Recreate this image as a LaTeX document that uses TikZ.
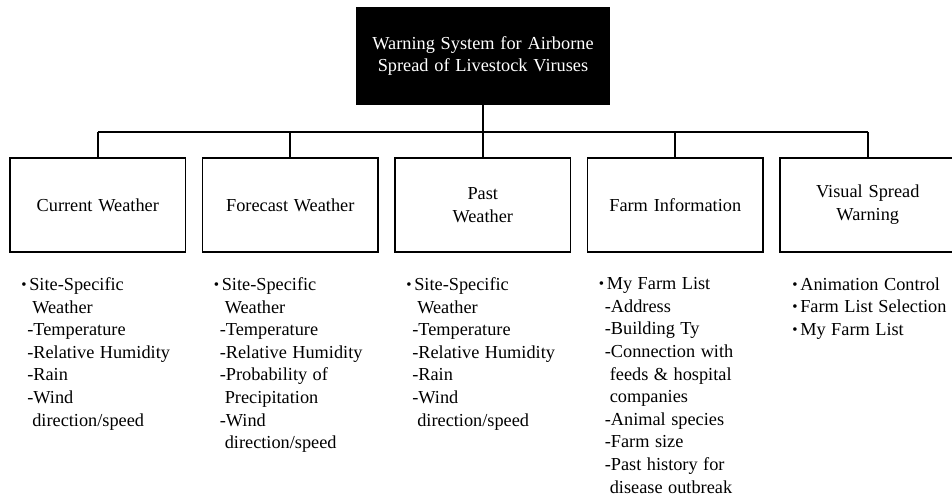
\documentclass[tikz,border=0pt]{standalone}
\usepackage{fontspec}
\setmainfont{Liberation Serif}
\usetikzlibrary{positioning}

\newcommand{\listfont}{\fontsize{18.3}{22.6}\selectfont\spaceskip=5.5pt plus 1pt minus 1pt\relax}
\newcommand{\boxfont}{\fontsize{18.3}{23}\selectfont\spaceskip=5.8pt plus 1pt minus 1pt\relax}
\newcommand{\rootfont}{\fontsize{18.3}{22}\selectfont\spaceskip=5.8pt plus 1pt minus 1pt\relax}
\newcommand{\bul}{\makebox[8pt][l]{\raisebox{1pt}{\fontsize{15}{15}\selectfont\textbullet}}}
\newcommand{\dsh}{\hspace*{6pt}}
\newcommand{\cnt}{\hspace*{11pt}}

\begin{document}
\begin{tikzpicture}[x=1pt, y=1pt,
  box/.style={draw=black, line width=1.8pt, minimum width=175.5pt, minimum height=94pt,
    align=center, inner sep=2pt, font=\boxfont},
  itemlist/.style={align=left, inner sep=0pt, font=\listfont},
  link/.style={line width=1.8pt}]
  \useasboundingbox (0,0) rectangle (952,496);
  \clip (0,0) rectangle (952,496);

  % root
  \node[box, fill=black, text=white, minimum width=252pt, minimum height=96pt,
    font=\rootfont] (root) at (483,440)
    {Warning System for Airborne\\Spread of Livestock Viruses};

  % modules
  \node[box] (cw) at (97.75,291) {Current Weather};
  \node[box, right=15.2pt of cw] (fw) {Forecast Weather};
  \node[box, right=15.2pt of fw] (pw) {Past\\Weather};
  \node[box, right=15.2pt of pw] (fi) {Farm Information};
  \node[box, right=15.2pt of fi] (vw) {Visual Spread\\Warning};

  % tree lines
  \path (root.south) ++(0,-27) coordinate (bus);
  \draw[link] (root.south) -- (bus);
  \draw[link] (cw.north |- bus) -- (vw.north |- bus);
  \foreach \m in {cw,fw,pw,fi,vw}
    \draw[link] (\m.north |- bus) -- (\m.north);

  % contents
  \node[itemlist, below right=24.5pt and 12pt of cw.south west] (cwlist)
    {\bul Site-Specific\\ \cnt Weather\\ \dsh-Temperature\\ \dsh-Relative Humidity\\
     \dsh-Rain\\ \dsh-Wind\\ \cnt direction/speed};
  \node[itemlist, below right=24.5pt and 12pt of fw.south west] (fwlist)
    {\bul Site-Specific\\ \cnt Weather\\ \dsh-Temperature\\ \dsh-Relative Humidity\\
     \dsh-Probability of\\ \cnt Precipitation\\ \dsh-Wind\\ \cnt direction/speed};
  \node[itemlist, below right=24.5pt and 12pt of pw.south west] (pwlist)
    {\bul Site-Specific\\ \cnt Weather\\ \dsh-Temperature\\ \dsh-Relative Humidity\\
     \dsh-Rain\\ \dsh-Wind\\ \cnt direction/speed};
  \node[itemlist, below right=24.5pt and 12pt of fi.south west] (filist)
    {\bul My Farm List\\ \dsh-Address\\ \dsh-Building Ty\\ \dsh-Connection with\\
     \cnt feeds \& hospital\\ \cnt companies\\ \dsh-Animal species\\ \dsh-Farm size\\
     \dsh-Past history for\\ \cnt disease outbreak};
  \node[itemlist, below right=24.5pt and 13pt of vw.south west] (vwlist)
    {\bul Animation Control\\ \bul Farm List Selection\\ \bul My Farm List};
\end{tikzpicture}
\end{document}
